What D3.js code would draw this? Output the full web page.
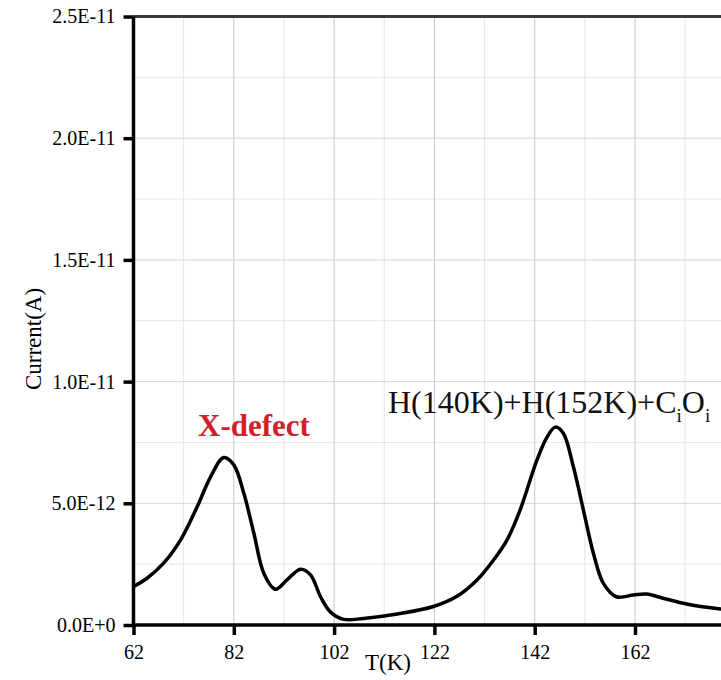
<!DOCTYPE html>
<html>
<head>
<meta charset="utf-8">
<script src="https://cdn.jsdelivr.net/npm/d3@7"></script>
<style>
  html, body { margin: 0; padding: 0; background: #fff; overflow: hidden; }
  svg { display: block; }
  text { font-family: "Liberation Serif", "Times New Roman", serif; }
</style>
</head>
<body>
<svg id="chart" width="721" height="680"></svg>
<script>
// Thermally stimulated current spectrum: temperature (K) vs current (A)
const temperature = [62, 64.7, 68, 71.4, 74.7, 77.4, 80, 82, 84, 86, 88, 90.3, 92.6, 95.3, 97.3,
  99.3, 101.2, 103.9, 107.9, 114.6, 121.8, 126.5, 130.5, 133.8, 136.5, 139.1, 142.4, 144.4,
  146.1, 147.7, 149.7, 151.7, 153.7, 155.7, 158.3, 161.7, 164.3, 167.6, 172.3, 179, 182];
const current = [1.58e-12, 1.92e-12, 2.54e-12, 3.5e-12, 4.86e-12, 6.1e-12, 6.88e-12, 6.58e-12,
  5.41e-12, 3.77e-12, 2.12e-12, 1.47e-12, 1.85e-12, 2.29e-12, 2.06e-12, 1.16e-12, 0.55e-12,
  0.23e-12, 0.27e-12, 0.45e-12, 0.76e-12, 1.18e-12, 1.85e-12, 2.67e-12, 3.5e-12, 4.73e-12,
  6.75e-12, 7.7e-12, 8.13e-12, 7.88e-12, 6.51e-12, 4.73e-12, 2.95e-12, 1.71e-12, 1.16e-12,
  1.23e-12, 1.27e-12, 1.10e-12, 0.86e-12, 0.66e-12, 0.62e-12];

const xTicks = [62, 82, 102, 122, 142, 162];
const xMinor = [72, 92, 112, 132, 152, 172];
const xGridMajor = [82, 102, 122, 142, 162, 182];
const yTicks = [0, 5e-12, 1e-11, 1.5e-11, 2e-11, 2.5e-11];
const yMinor = [2.5e-12, 7.5e-12, 1.25e-11, 1.75e-11, 2.25e-11];

const svg = d3.select("#chart");
const x = d3.scaleLinear().domain([62, 182]).range([133.5, 735.3]);
const y = d3.scaleLinear().domain([0, 2.5e-11]).range([625, 16.5]);
const plotTop = y(2.5e-11), plotBottom = y(0), plotLeft = x(62), plotRight = x(182);

// grid
const grid = svg.append("g");
grid.selectAll(".vminor").data(xMinor).join("line")
  .attr("x1", d => x(d)).attr("x2", d => x(d)).attr("y1", plotTop).attr("y2", plotBottom)
  .attr("stroke", "#e6e6e6").attr("stroke-width", 1);
grid.selectAll(".hminor").data(yMinor).join("line")
  .attr("x1", plotLeft).attr("x2", plotRight).attr("y1", d => y(d)).attr("y2", d => y(d))
  .attr("stroke", "#e6e6e6").attr("stroke-width", 1);
grid.selectAll(".vmajor").data(xGridMajor).join("line")
  .attr("x1", d => x(d)).attr("x2", d => x(d)).attr("y1", plotTop).attr("y2", plotBottom)
  .attr("stroke", "#c8c8c8").attr("stroke-width", 1);
grid.selectAll(".hmajor").data(yTicks.slice(1, -1)).join("line")
  .attr("x1", plotLeft).attr("x2", plotRight).attr("y1", d => y(d)).attr("y2", d => y(d))
  .attr("stroke", "#d4d4d4").attr("stroke-width", 1);

// top frame
svg.append("line").attr("x1", plotLeft).attr("x2", plotRight).attr("y1", plotTop).attr("y2", plotTop)
  .attr("stroke", "#3a3a3a").attr("stroke-width", 3);

// curve
const line = d3.line()
  .x((d, i) => x(temperature[i]))
  .y(d => y(d))
  .curve(d3.curveCatmullRom.alpha(0.5));
svg.append("path").datum(current)
  .attr("d", line).attr("fill", "none")
  .attr("stroke", "#000").attr("stroke-width", 3.5).attr("stroke-linejoin", "round");

// axes
const fmtY = d => d === 0 ? "0.0E+0" : d.toExponential(1).toUpperCase();
const xAxis = svg.append("g").attr("transform", `translate(0,${plotBottom})`)
  .call(d3.axisBottom(x).tickValues(xTicks).tickFormat(d3.format("d")).tickSize(10).tickPadding(10));
const yAxis = svg.append("g").attr("transform", `translate(${plotLeft},0)`)
  .call(d3.axisLeft(y).tickValues(yTicks).tickFormat(fmtY).tickSize(10).tickPadding(8));
[xAxis, yAxis].forEach(a => {
  a.select(".domain").attr("stroke", "#000").attr("stroke-width", 3.5);
  a.selectAll(".tick line").attr("stroke", "#000").attr("stroke-width", 3.5);
  a.selectAll(".tick text").attr("fill", "#000").style("font-size", "20px")
    .style("font-family", '"Liberation Serif", serif');
});
xAxis.select(".domain").attr("d", `M${plotLeft},0H${plotRight}`);
yAxis.select(".domain").attr("d", `M0,${plotBottom + 1.5}V${plotTop}`);

// axis titles
svg.append("text").attr("x", 388).attr("y", 670).attr("text-anchor", "middle")
  .style("font-size", "23px").text("T(K)");
svg.append("text").attr("transform", "translate(41,339) rotate(-90)").attr("text-anchor", "middle")
  .style("font-size", "23px").text("Current(A)");

// peak annotations
svg.append("text").attr("x", 254).attr("y", 436).attr("text-anchor", "middle")
  .attr("fill", "#d21f2b").style("font-size", "31px").style("font-weight", "bold").text("X-defect");
const ann = svg.append("text").attr("x", 388).attr("y", 413).style("font-size", "32px").attr("fill", "#111");
ann.append("tspan").text("H(140K)+H(152K)+C");
ann.append("tspan").attr("dy", 9).style("font-size", "19px").text("i");
ann.append("tspan").attr("dy", -9).text("O");
ann.append("tspan").attr("dy", 9).style("font-size", "19px").text("i");
</script>
</body>
</html>
